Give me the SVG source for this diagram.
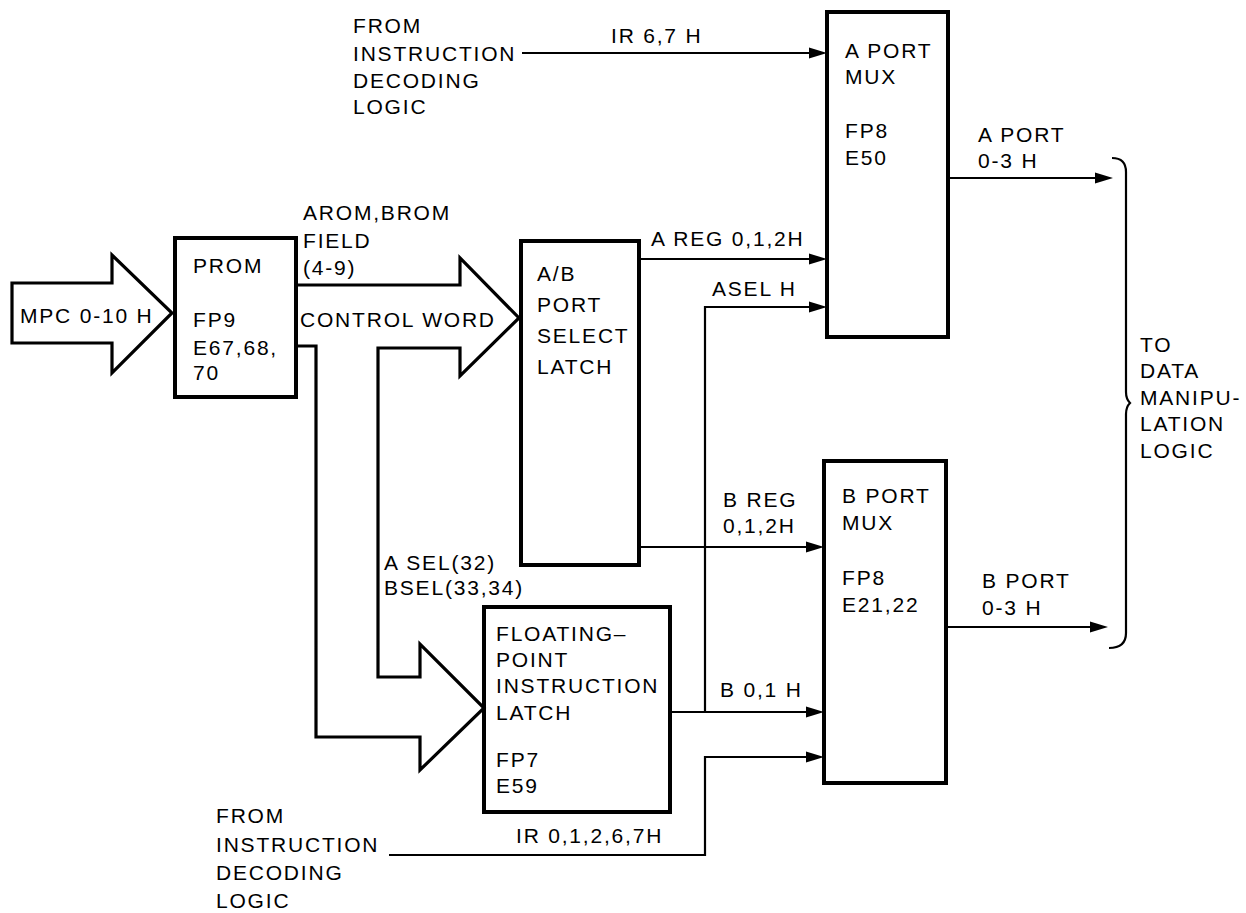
<svg xmlns="http://www.w3.org/2000/svg" width="1246" height="913" viewBox="0 0 1246 913">
<style>
text{font-family:"Liberation Sans",Arial,sans-serif;font-size:21px;letter-spacing:1.8px;fill:#000}
.box{fill:none;stroke:#000;stroke-width:4;stroke-linejoin:miter}
.bus{fill:none;stroke:#000;stroke-width:3.2;stroke-linejoin:miter}
.wire{fill:none;stroke:#000;stroke-width:2.2}
.arr{marker-end:url(#ah)}
</style>
<defs>
<marker id="ah" markerUnits="userSpaceOnUse" markerWidth="20" markerHeight="12" viewBox="0 0 20 12" refX="2" refY="6" orient="auto">
<path d="M0,0.5 L18,6 L0,11.5 z" fill="#000"/>
</marker>
</defs>
<rect width="1246" height="913" fill="#fff"/>

<g id="mpc-input">
<path class="bus" d="M12,283 L112,283 L112,255 L172,313 L112,373 L112,343 L12,343 Z"/>
<text x="20" y="323">MPC 0-10 H</text>
</g>

<g id="prom">
<rect class="box" x="175" y="238" width="121" height="159"/>
<text x="193" y="273">PROM</text>
<text x="193" y="327">FP9</text>
<text x="193" y="355">E67,68,</text>
<text x="193" y="380">70</text>
</g>

<g id="control-word-bus">
<path class="bus" d="M296,285 L460,285 L460,258 L519,318 L460,376 L460,348 L378,348 L378,677 L420,677 L420,644 L484,708 L420,770 L420,737 L316,737 L316,346 L296,346"/>
<text x="303" y="220">AROM,BROM</text>
<text x="303" y="248">FIELD</text>
<text x="303" y="275">(4-9)</text>
<text x="300" y="327">CONTROL WORD</text>
<text x="384" y="570">A SEL(32)</text>
<text x="384" y="595">BSEL(33,34)</text>
</g>

<g id="ab-port-select-latch">
<rect class="box" x="521" y="241" width="118" height="324"/>
<text x="537" y="281">A/B</text>
<text x="537" y="312">PORT</text>
<text x="537" y="343">SELECT</text>
<text x="537" y="374">LATCH</text>
</g>

<g id="fp-instruction-latch">
<rect class="box" x="484" y="607" width="186" height="205"/>
<text x="496" y="641">FLOATING–</text>
<text x="496" y="667">POINT</text>
<text x="496" y="693">INSTRUCTION</text>
<text x="496" y="720">LATCH</text>
<text x="496" y="767">FP7</text>
<text x="496" y="793">E59</text>
</g>

<g id="a-port-mux">
<rect class="box" x="827" y="12" width="121" height="325"/>
<text x="845" y="58">A PORT</text>
<text x="845" y="84">MUX</text>
<text x="845" y="138">FP8</text>
<text x="845" y="165">E50</text>
</g>

<g id="b-port-mux">
<rect class="box" x="824" y="461" width="122" height="322"/>
<text x="842" y="503">B PORT</text>
<text x="842" y="530">MUX</text>
<text x="842" y="585">FP8</text>
<text x="842" y="612">E21,22</text>
</g>

<g id="from-idl-top">
<text x="353" y="33">FROM</text>
<text x="353" y="61">INSTRUCTION</text>
<text x="353" y="88">DECODING</text>
<text x="353" y="114">LOGIC</text>
</g>

<g id="from-idl-bottom">
<text x="216" y="823">FROM</text>
<text x="216" y="852">INSTRUCTION</text>
<text x="216" y="880">DECODING</text>
<text x="216" y="908">LOGIC</text>
</g>

<g id="data-manipulation-logic">
<path class="wire" d="M1112,158 Q1126,158 1126,172 L1126,392 Q1126,399 1130,403 Q1126,407 1126,414 L1126,633 Q1126,648 1109,648"/>
<text x="1140" y="352">TO</text>
<text x="1140" y="378">DATA</text>
<text x="1140" y="405">MANIPU-</text>
<text x="1140" y="431">LATION</text>
<text x="1140" y="458">LOGIC</text>
</g>

<g id="connectors">
<path class="wire arr" d="M522,53 L811,53"/>
<text x="611" y="43">IR 6,7 H</text>
<path class="wire arr" d="M639,259 L811,259"/>
<text x="651" y="246">A REG 0,1,2H</text>
<path class="wire arr" d="M705,712 L705,307 L811,307"/>
<text x="712" y="296">ASEL H</text>
<path class="wire arr" d="M948,178 L1097,178"/>
<text x="978" y="142">A PORT</text>
<text x="978" y="168">0-3 H</text>
<path class="wire arr" d="M639,547 L808,547"/>
<text x="723" y="507">B REG</text>
<text x="723" y="533">0,1,2H</text>
<path class="wire arr" d="M670,712 L808,712"/>
<text x="720" y="697">B 0,1 H</text>
<path class="wire arr" d="M389,855 L705,855 L705,757 L808,757"/>
<text x="516" y="843">IR 0,1,2,6,7H</text>
<path class="wire arr" d="M946,627 L1092,627"/>
<text x="982" y="588">B PORT</text>
<text x="982" y="615">0-3 H</text>
</g>
</svg>
